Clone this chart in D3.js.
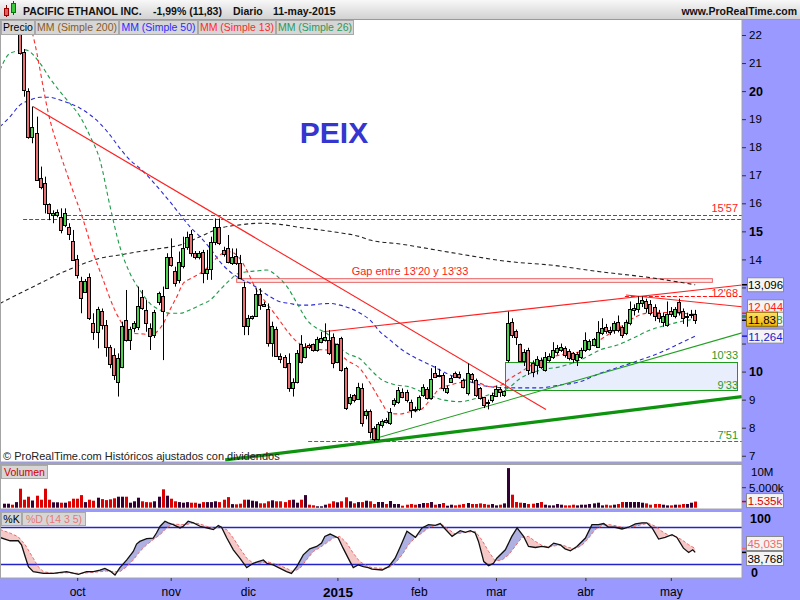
<!DOCTYPE html>
<html><head><meta charset="utf-8">
<script src="https://cdn.jsdelivr.net/npm/d3@7/dist/d3.min.js"></script>
<style>
html,body{margin:0;padding:0;background:#fff;}
svg{display:block;font-family:"Liberation Sans",Arial,sans-serif;}
</style></head>
<body><svg id="chart" width="800" height="600"></svg>
<script>
// ---------------- DATA ----------------
const opens = [23.8,24.2,24.4,23.9,22.9,21.4,20.0,18.38,18.5,16.9,
16.72,15.97,15.58,15.60,15.52,15.23,15.14,14.64,14.0,13.24,
12.85,13.36,11.72,11.41,12.17,11.66,10.87,10.59,9.64,10.15,
11.84,11.13,11.54,11.60,12.65,12.20,11.54,11.30,12.49,12.70,
12.97,14.07,13.60,13.27,13.76,14.43,14.89,14.22,14.10,14.25,
13.53,13.65,14.61,15.14,14.34,14.42,13.88,14.12,13.88,13.03,
11.62,11.92,11.99,12.75,12.41,12.23,11.03,11.52,10.55,10.51,
10.29,9.40,9.64,10.97,10.53,10.95,10.98,10.77,11.07,11.13,
11.13,11.24,10.35,11.19,10.12,8.87,9.16,9.01,9.40,8.45,
8.60,7.98,7.58,8.10,8.27,8.15,8.83,8.93,9.29,9.29,
8.93,8.68,8.65,9.17,9.37,9.07,9.94,9.84,9.88,9.28,
9.64,9.94,9.91,9.70,9.22,9.90,9.70,9.40,9.08,8.93,
8.99,9.14,9.37,9.17,10.41,11.78,11.45,10.98,10.39,10.77,
10.29,10.23,10.41,10.06,10.41,10.53,10.71,10.77,10.83,10.75,
10.65,10.41,10.53,10.77,10.8,10.95,10.89,11.39,11.58,11.5,
11.48,11.78,11.58,11.36,11.72,12.2,12.22,12.43,12.53,12.4,
12.29,12.10,11.78,11.66,12.15,11.98,12.47,12.17,11.98,12.05,
12.05];
const highs = [24.5,24.6,24.5,24.2,23.0,21.5,20.1,19.45,19.09,17.31,
16.95,16.0,15.75,15.78,15.82,15.82,15.29,15.05,14.16,13.38,
13.3,13.50,12.08,12.31,12.25,11.84,10.95,10.83,10.65,11.78,
12.91,11.6,11.8,13.03,12.91,12.55,11.72,12.2,12.85,13.03,
14.22,14.75,13.74,14.28,14.81,14.99,15.05,14.3,14.3,14.34,
14.34,14.81,15.46,15.46,14.45,14.87,14.39,14.39,14.16,13.20,
12.02,12.0,12.97,12.97,12.49,12.43,11.78,11.60,10.65,10.59,
10.65,9.76,10.77,11.30,11.01,11.0,11.0,11.24,11.42,11.72,
11.48,11.36,11.0,11.24,10.17,9.2,9.2,9.60,9.58,8.65,
8.65,8.05,8.2,8.3,8.35,8.7,9.05,9.45,9.4,9.35,
9.0,8.75,9.15,9.55,9.45,10.12,10.2,10.1,9.95,9.5,
9.85,10.0,10.0,9.75,10.29,9.95,9.75,9.45,9.1,9.0,
9.25,9.5,9.45,9.33,12.14,11.9,11.5,11.0,10.8,10.85,
10.4,10.55,10.5,10.7,10.65,11.05,10.95,11.0,10.9,10.8,
10.7,10.7,10.85,11.4,11.15,11.2,11.8,11.9,11.7,11.6,
11.8,12.0,11.65,11.85,12.5,12.4,12.68,12.68,12.6,12.55,
12.4,12.2,12.1,12.5,12.3,12.3,12.6,12.25,12.1,12.2,
12.2];
const lows = [23.6,24.0,23.9,23.6,21.3,19.8,18.3,18.14,16.8,16.5,
15.64,15.40,15.29,15.5,14.93,15.15,14.69,13.95,13.32,12.08,
12.8,11.84,11.13,10.83,11.5,10.53,10.12,9.70,9.11,10.12,
11.07,10.77,11.4,11.48,12.20,11.42,10.77,11.2,12.37,10.41,
12.95,13.74,13.03,13.15,13.68,14.34,14.10,14.0,14.0,13.15,
13.27,13.27,14.51,14.51,14.10,13.86,13.80,13.80,13.33,11.30,
11.30,11.85,11.96,12.20,12.31,10.89,10.53,10.53,10.3,10.12,
9.28,9.11,9.58,10.29,10.47,10.8,10.71,10.71,11.01,11.07,
10.59,10.12,10.3,10.0,8.63,8.8,8.9,8.99,8.04,8.3,
7.62,7.51,7.55,8.0,8.15,8.1,8.75,8.85,9.05,8.9,
8.35,8.55,8.6,9.1,9.0,9.0,9.78,9.8,9.3,9.2,
9.6,9.78,9.75,9.4,9.15,9.6,9.1,9.0,8.7,8.65,
8.9,9.1,9.1,9.1,10.33,11.2,10.95,10.35,10.2,9.88,
9.8,9.9,10.1,10.0,10.35,10.45,10.6,10.7,10.5,10.4,
10.3,10.2,10.45,10.7,10.75,10.9,10.85,11.3,11.35,11.3,
11.35,11.4,11.2,11.3,11.65,12.0,12.1,12.3,12.1,12.0,
11.8,11.75,11.6,11.6,11.95,11.9,12.0,11.7,11.6,11.9,
11.7];
const closes = [24.2,24.4,24.0,24.1,21.35,20.04,18.38,18.71,16.83,16.59,
15.97,15.64,15.66,15.70,15.05,15.64,14.91,13.98,13.44,12.61,
13.24,11.90,11.42,12.22,11.66,10.89,10.27,9.88,10.47,11.63,
11.13,11.51,11.72,12.34,12.26,11.72,11.27,12.14,12.79,12.16,
14.10,13.80,13.15,13.92,14.42,14.81,14.22,14.10,14.22,13.50,
13.65,14.61,15.14,14.57,14.19,13.92,14.10,13.88,13.35,11.62,
11.92,11.98,12.75,12.37,12.34,11.03,11.62,10.57,10.45,10.17,
9.40,9.64,10.65,10.35,10.86,10.86,10.77,11.15,11.21,11.24,
10.67,10.32,10.98,10.06,8.72,9.11,8.99,9.46,8.16,8.60,
7.86,7.58,8.13,8.25,8.21,8.57,8.99,9.34,9.11,8.99,
8.63,8.62,9.08,9.46,9.07,9.72,9.82,9.88,9.40,9.40,
9.76,9.82,9.80,9.46,9.96,9.72,9.17,9.05,8.81,8.87,
9.17,9.37,9.29,9.30,11.72,11.30,11.25,10.39,10.71,10.06,
9.99,10.44,10.17,10.53,10.56,10.77,10.83,10.86,10.59,10.50,
10.44,10.63,10.77,11.13,11.08,11.15,11.42,11.54,11.46,11.42,
11.72,11.48,11.30,11.78,12.22,12.28,12.43,12.55,12.25,12.1,
11.99,11.9,11.98,12.07,12.05,12.22,12.14,11.90,12.0,12.07,
11.83];
// volume in millions of shares
const volumes = [1.0,1.0,0.75,1.4,4.75,2.0,2.75,1.8,3.0,2.0,
4.75,2.0,1.35,1.35,1.25,1.25,1.6,2.25,2.25,3.15,
1.4,2.0,1.75,2.5,2.15,1.9,2.1,2.35,2.75,2.75,
2.75,1.25,1.6,2.5,1.6,1.4,1.35,1.6,2.75,4.6,
3.0,2.25,1.6,1.4,1.25,1.4,1.25,1.25,1.0,1.4,
1.4,1.4,1.6,1.4,2.0,2.65,0.9,0.85,1.0,2.0,
2.0,1.75,1.6,1.1,1.1,1.6,1.85,1.6,1.6,1.4,
1.9,2.0,1.25,2.0,3.15,0.75,0.6,0.35,0.35,0.75,
1.0,1.6,1.35,1.6,2.6,1.6,1.1,1.4,1.4,1.75,
1.6,0.92,1.42,1.42,0.92,1.67,0.92,0.92,0.5,0.75,
0.92,0.75,0.92,1.17,1.17,1.42,0.75,0.92,1.17,0.5,
0.75,0.58,0.75,0.92,1.17,0.92,0.92,1.08,0.92,0.75,
0.92,0.58,0.75,1.08,9.9,3.25,1.42,1.25,1.17,0.92,
1.0,1.17,1.42,0.75,0.58,0.58,0.92,0.75,0.58,0.58,
0.75,0.58,0.75,0.75,0.92,1.08,1.25,0.58,0.75,0.58,
0.75,0.92,1.42,1.42,1.42,1.42,1.42,1.25,1.08,0.75,
0.92,0.92,0.75,0.58,0.58,0.75,0.75,0.92,0.92,1.25,
1.535];
// moving averages, sampled [bar index, value]
const sma200 = [[-1,12.43],[3.9,12.79],[8.9,13.15],[13.8,13.50],[18.7,13.80],[23.6,14.04],[28.5,14.16],[33.4,14.28],[38.4,14.39],[43.3,14.51],[48.2,14.81],[53.1,15.11],[58,15.23],[63,15.29],[67.9,15.25],[72.8,15.14],[77.7,15.05],[82.6,14.95],[87.6,14.81],[90,14.69],[97.4,14.55],[109.7,14.25],[124.4,13.92],[134.3,13.80],[146.6,13.56],[158.9,13.35],[170,13.096]];
const sma50 = [[-1,18.73],[1.5,19.09],[3.9,19.50],[6.4,19.68],[8.9,19.78],[11.3,19.78],[13.8,19.68],[16.2,19.56],[18.7,19.39],[21.2,19.15],[23.6,18.85],[26.1,18.43],[28.5,17.96],[31,17.54],[33.4,17.25],[35.9,16.89],[38.4,16.47],[40.8,16.06],[43.3,15.6],[45.7,15.17],[48.2,14.81],[50.7,14.39],[53.1,13.92],[55.6,13.56],[58,13.32],[60.5,13.15],[63,12.91],[65.4,12.67],[67.9,12.49],[70.3,12.43],[72.8,12.37],[75.3,12.37],[77.7,12.41],[80.2,12.43],[82.6,12.37],[85.1,12.26],[87.6,12.08],[90,11.84],[92.5,11.42],[94.9,11.13],[97.4,10.83],[99.9,10.59],[102.3,10.41],[104.8,10.24],[107.2,10.06],[109.7,9.88],[112.2,9.76],[114.6,9.64],[117.1,9.52],[119.5,9.46],[122,9.43],[126.9,9.42],[131.8,9.42],[136.7,9.52],[141.7,9.64],[146.6,9.94],[151.5,10.17],[156.4,10.41],[161.3,10.67],[166.3,11.01],[170,11.264]];
const sma13 = [[5.5,22.8],[7.1,22.0],[11.3,18.97],[13.8,17.78],[16.6,16.59],[19.5,15.40],[22,14.22],[24.4,13.27],[26.9,12.31],[28.5,11.84],[30.2,11.48],[31.8,11.36],[34.3,11.34],[36.3,11.30],[37.6,11.42],[39.2,11.72],[40.8,12.20],[42.5,12.67],[44.1,13.15],[45.7,13.3],[48.2,13.50],[50.7,13.80],[53.1,14.16],[55.6,14.27],[57.6,14.10],[59.7,13.62],[62.1,12.91],[64.6,12.43],[67.1,11.96],[69.5,11.48],[72,11.07],[74.4,10.89],[76.9,10.79],[79.4,10.77],[81.8,10.71],[84.3,10.41],[87.6,10.1],[90,9.6],[92.5,8.99],[94.9,8.51],[97.4,8.49],[99.9,8.57],[102.3,8.63],[104.8,8.99],[107.2,9.40],[109.7,9.52],[112.2,9.61],[114.6,9.64],[117.1,9.58],[119.5,9.46],[122,9.50],[124.4,9.75],[126.9,9.97],[129.4,10.2],[131.8,10.38],[134.3,10.51],[136.7,10.59],[139.2,10.65],[141.7,10.71],[144.1,10.89],[146.6,11.13],[149,11.36],[151.5,11.60],[154,11.84],[156.4,12.02],[158.9,12.10],[161.3,12.11],[163.8,12.10],[166.3,12.08],[170,12.044]];
const sma26 = [[-1,20.75],[1.5,21.35],[5.2,21.47],[8.9,20.99],[11.3,20.45],[13.8,19.98],[16.2,19.56],[18.7,19.09],[21.2,18.38],[23.6,17.54],[26.1,15.88],[28.5,14.45],[31,13.50],[33.4,12.91],[35.9,12.43],[38.4,12.20],[40.8,12.08],[43.3,12.08],[45.7,12.20],[48.2,12.37],[50.7,12.55],[53.1,12.91],[55.6,13.27],[57.6,13.50],[59.8,13.56],[62.2,13.59],[64.7,13.62],[67.1,13.41],[69.6,13.03],[72.1,12.43],[74.5,11.84],[77,11.54],[79.4,11.36],[81.9,10.95],[84.4,10.65],[87.6,10.45],[90,10.1],[92.5,9.75],[95.7,9.55],[99.9,9.45],[104,9.2],[108,8.99],[112.2,8.93],[116.3,9.05],[120.3,9.22],[124.4,9.45],[126.9,9.75],[131.8,10.05],[136.7,10.17],[141.7,10.41],[146.6,10.77],[151.5,10.98],[154.7,11.19],[158.9,11.48],[163.1,11.66],[166.3,11.78],[170,11.868]];
// stochastic (14 3 5), sampled [bar index, value]
const stochK = [[-1,63],[1.5,57.6],[3.5,57.6],[4.3,51.1],[5.2,32],[6,15.6],[7.2,7.5],[9.7,4.7],[12.1,4.7],[15.4,7.5],[18.3,3.1],[20.3,7.5],[22,7.5],[23.6,10.2],[24.8,12.9],[26.1,8.5],[27.3,2],[28.5,14],[30.2,26.5],[31.8,40.2],[32.6,52.2],[33.4,56.5],[35.1,60.9],[36.7,62],[37.5,70.2],[38.4,81.1],[39.6,89.3],[40.4,86.6],[41.6,83.8],[43.3,78.4],[44.1,81.1],[45.3,89.3],[46.6,86.6],[48.2,81.1],[49.8,78.4],[51.5,75.6],[52.7,82.2],[53.5,79.5],[54.8,62],[56.4,42.9],[58,29.3],[59.7,14],[61.3,21.1],[62.5,23.8],[63.8,26.5],[64.6,21.1],[66.2,18.4],[67.9,12.9],[69.5,7.5],[70.7,4.7],[72,15.6],[73.6,34.7],[75.2,44.5],[76.9,48.4],[78.1,53.8],[78.9,64.7],[80.2,68.5],[81.4,64.7],[82.2,62],[83.4,45.6],[85.1,23.8],[85.9,14],[87.1,18.4],[88.4,15.6],[89.6,14],[90.5,11.5],[93,10.2],[94.6,15.6],[96.2,29.3],[97.5,48.4],[99.1,72.9],[101.2,63.1],[102.8,78.4],[104.4,83.8],[106.1,82.7],[107.3,85.5],[108.1,79.5],[110.2,64.7],[112.2,74],[113.5,71.3],[114.7,74],[115.9,70.2],[116.7,56.5],[118,23.8],[119.2,17.3],[120.4,21.1],[121.2,29.3],[123.3,42.9],[124.9,64.7],[126.2,78.4],[127.8,64.7],[129,48.4],[130.7,46.7],[132.3,48.4],[133.9,46.7],[135.2,53.8],[136.8,51.1],[138,44.5],[139.3,41.3],[140.9,48.4],[143,62],[144.6,83.8],[146.2,83.8],[147.5,85.5],[148.7,79.5],[150.3,79.5],[152,76.7],[153.6,79.5],[155.3,84.9],[156.9,86.6],[158.1,86.6],[159.4,78.4],[161,60.4],[162.6,63.1],[164.3,67.5],[165.5,63.1],[167.1,45.6],[168.4,38.5],[169.4,42.9],[170,38.768]];
const stochD = [[-1,76],[1.5,70],[3.5,64],[5.2,51.1],[7.2,29.3],[8.4,15.6],[9.7,7.5],[12.1,4.7],[15.4,5.8],[18.7,4.7],[22,6.4],[25.2,8.5],[27.3,7.5],[28.5,7.5],[30.2,15.6],[31.8,26.5],[33.4,40.2],[35.1,51.1],[36.7,59.3],[38.4,67.5],[40,78.4],[41.6,84.9],[43.3,83.8],[44.9,83.8],[46.6,86.6],[48.2,84.9],[49.8,81.1],[51.5,78.4],[53.1,79.5],[54.8,75.6],[56.4,62],[58,45.6],[59.7,29.3],[61.3,21.1],[63,21.1],[64.6,23.8],[66.2,21.1],[67.9,17.3],[69.5,12.9],[71.1,7.5],[72.8,12.9],[74.4,26.5],[76.1,40.2],[77.7,46.7],[79.3,53.8],[81,62],[82.6,64.7],[84.3,53.8],[85.9,37.5],[87.5,23.8],[89.2,17.3],[90.5,14],[93,12.9],[94.6,14],[96.2,21.1],[97.9,34.7],[99.5,51.1],[101.2,63.1],[102.8,70.2],[104.4,78.4],[106.1,82.7],[107.7,83.8],[109.4,75.6],[111,68.5],[112.6,70.2],[114.3,71.8],[115.9,72.9],[117.5,59.3],[119.2,40.2],[120.8,24.9],[122.5,26.5],[124.1,34.7],[125.7,48.4],[127.4,63.1],[129,64.7],[130.7,56.5],[132.3,50],[133.9,47.3],[135.6,49.5],[137.2,51.1],[138.9,46.7],[140.5,44.5],[142.1,50],[143.8,62],[145.4,75.6],[147,82.2],[148.7,83.8],[150.3,82.2],[152,79.5],[153.6,78.4],[155.3,81.1],[156.9,83.8],[158.5,86],[160.2,81.1],[161.8,72.9],[163.5,66.4],[165.1,64.7],[166.7,59.3],[168.4,51.1],[170,45.035]];
// drawn annotations in [bar index, price] units
const redTrendLines = [[7.1,19.45,133.3,8.65],[78.5,11.42,181.5,13.09],[153.0,12.73,181.5,12.31]];
const greenThinLine = [90.0,7.56,181.5,11.38];
const greenThickLine = [54.4,6.85,181.5,9.105];
const redLevelStart = [15.5,4.7,152.7];
const redLevelPrice = [15.57,15.45,12.68];
const greenLevelStart = [74.8];
const greenLevelPrice = [7.51];
const gapBox = [57.1,174.1,13.20,13.33];
const fillBox = [123.2,180.3,9.33,10.33];
const levelLabels = ["15'57","12'68","10'33","9'33","7'51"];
const levelLabelPrices = [15.57,12.68,10.33,9.33,7.51];
// axes
const priceTicks = [7,8,9,10,11,12,13,14,15,16,17,18,19,20,21,22];
const hiddenPriceTicks = [11,12,13];
const monthIdx = [18,41,60,82,102,121,143,164];
const monthLabels = ["oct","nov","dic","2015","feb","mar","abr","may"];

// ---------------- DRAWING ----------------
const svg = d3.select("#chart");
const N = closes.length;
const FONT = '"Liberation Sans",Arial,sans-serif';
const LAV = "#9999ff";
const x = d3.scaleLinear().domain([0, 170]).range([4, 695.2]);
const yP = d3.scaleLinear().domain([7, 22]).range([455.75, 35]);
const yV = d3.scaleLinear().domain([0, 10]).range([507.7, 467.7]);
const yS = d3.scaleLinear().domain([0, 100]).range([576.3, 514.6]);

const defs = svg.append("defs");
function clipRect(id, x0, y0, w, h){ defs.append("clipPath").attr("id", id).append("rect").attr("x",x0).attr("y",y0).attr("width",w).attr("height",h); }
clipRect("cp", 0, 20, 742, 442);
clipRect("cv", 0, 465, 742, 44);
clipRect("cs", 0, 512, 742, 66);
const hg = defs.append("linearGradient").attr("id","hdr").attr("x1",0).attr("y1",0).attr("x2",0).attr("y2",1);
hg.append("stop").attr("offset","0%").attr("stop-color","#f8f8f8");
hg.append("stop").attr("offset","100%").attr("stop-color","#d2d2d2");
const yg = defs.append("linearGradient").attr("id","ylw").attr("x1",0).attr("y1",0).attr("x2",0).attr("y2",1);
yg.append("stop").attr("offset","0%").attr("stop-color","#ffe066");
yg.append("stop").attr("offset","100%").attr("stop-color","#f0b400");

svg.append("rect").attr("width",800).attr("height",600).attr("fill","#fff");
svg.append("rect").attr("x",742).attr("y",19).attr("width",58).attr("height",581).attr("fill",LAV);
svg.append("rect").attr("x",0).attr("y",578).attr("width",742).attr("height",22).attr("fill",LAV);
svg.append("rect").attr("x",0).attr("y",462).attr("width",742).attr("height",3).attr("fill",LAV);
svg.append("rect").attr("x",0).attr("y",509).attr("width",742).attr("height",3).attr("fill",LAV);

// ---- price panel ----
const gP = svg.append("g").attr("clip-path","url(#cp)");
gP.append("rect").attr("x", x(gapBox[0])+0.5).attr("y", yP(gapBox[3])+0.5)
  .attr("width", x(gapBox[1])-x(gapBox[0])).attr("height", yP(gapBox[2])-yP(gapBox[3]))
  .attr("fill","#fdeeee").attr("stroke","#e86464").attr("stroke-width",1);
gP.append("rect").attr("x", Math.round(x(fillBox[0]))+0.5).attr("y", Math.round(yP(fillBox[3]))+0.5)
  .attr("width", Math.round(x(fillBox[1])-x(fillBox[0]))).attr("height", Math.round(yP(fillBox[2])-yP(fillBox[3])))
  .attr("fill","#e8eefb").attr("stroke","#1f9a1f").attr("stroke-width",1);

redLevelPrice.forEach((p,k)=>{
  const yy = Math.round(yP(p))+0.5;
  gP.append("line").attr("x1",x(redLevelStart[k])).attr("x2",742).attr("y1",yy).attr("y2",yy)
    .attr("stroke","#ff1010").attr("stroke-width",1).attr("stroke-dasharray","4,2");
});
greenLevelPrice.forEach((p,k)=>{
  const yy = Math.round(yP(p))+0.5;
  gP.append("line").attr("x1",x(greenLevelStart[k])).attr("x2",742).attr("y1",yy).attr("y2",yy)
    .attr("stroke","#1f8f1f").attr("stroke-width",1).attr("stroke-dasharray","4,2");
});

const maLine = d3.line().x(d=>x(d[0])).y(d=>yP(d[1])).curve(d3.curveMonotoneX);
[[sma200,"#222222"],[sma50,"#2b2bd6"],[sma26,"#1f9a4a"],[sma13,"#ff2a2a"]].forEach(([arr,col])=>{
  gP.append("path").attr("d", maLine(arr)).attr("fill","none").attr("stroke",col)
    .attr("stroke-width",1.1).attr("stroke-dasharray","4,3");
});

redTrendLines.forEach(l=>{
  gP.append("line").attr("x1",x(l[0])).attr("y1",yP(l[1])).attr("x2",x(l[2])).attr("y2",yP(l[3]))
    .attr("stroke","#ff2020").attr("stroke-width",1.1);
});
gP.append("line").attr("x1",x(greenThinLine[0])).attr("y1",yP(greenThinLine[1])).attr("x2",x(greenThinLine[2])).attr("y2",yP(greenThinLine[3]))
  .attr("stroke","#22a022").attr("stroke-width",1.1);
gP.append("line").attr("x1",x(greenThickLine[0])).attr("y1",yP(greenThickLine[1])).attr("x2",x(greenThickLine[2])).attr("y2",yP(greenThickLine[3]))
  .attr("stroke","#0d930d").attr("stroke-width",3.2);

const idx = d3.range(N);
const cx = i => Math.round(x(i));
gP.append("g").selectAll("line").data(idx).join("line")
  .attr("x1", i=>cx(i)+0.5).attr("x2", i=>cx(i)+0.5)
  .attr("y1", i=>yP(highs[i])).attr("y2", i=>yP(lows[i]))
  .attr("stroke","#000").attr("stroke-width",1);
gP.append("g").selectAll("rect").data(idx).join("rect")
  .attr("x", i=>cx(i)-1.5).attr("width",3)
  .attr("y", i=>Math.round(yP(Math.max(opens[i],closes[i])))+0.5)
  .attr("height", i=>Math.max(1, Math.round(yP(Math.min(opens[i],closes[i]))) - Math.round(yP(Math.max(opens[i],closes[i])))))
  .attr("fill", i=>closes[i]>=opens[i] ? "#4fd24f" : "#ea7272")
  .attr("stroke","#000").attr("stroke-width",1);

gP.append("text").attr("x",334).attr("y",143).attr("text-anchor","middle").attr("font-family",FONT)
  .attr("font-size",30).attr("font-weight","bold").attr("fill","#3535cf").text("PEIX");
gP.append("text").attr("x",410).attr("y",275).attr("text-anchor","middle").attr("font-family",FONT)
  .attr("font-size",11).attr("fill","#ff1a1a").text("Gap entre 13'20 y 13'33");
const lblOff = [-3.5, 0.5, -3.5, -1.5, -2];
levelLabels.forEach((t,k)=>{
  gP.append("text").attr("x",738).attr("y",yP(levelLabelPrices[k])+lblOff[k]).attr("text-anchor","end")
    .attr("font-family",FONT).attr("font-size",11)
    .attr("fill", k<2 ? "#ff1a1a" : "#2a9a2a").text(t);
});
gP.append("text").attr("x",3).attr("y",460).attr("font-family",FONT).attr("font-size",11).attr("fill","#222")
  .text("\u00a9 ProRealTime.com Hist\u00f3ricos ajustados con dividendos");

// ---- volume panel ----
const gV = svg.append("g").attr("clip-path","url(#cv)");
gV.append("rect").attr("x",0).attr("y",465).attr("width",742).attr("height",44).attr("fill","#fff");
gV.selectAll("rect.v").data(idx).join("rect").attr("class","v")
  .attr("x", i=>cx(i)-1).attr("width",3)
  .attr("y", i=>yV(volumes[i])).attr("height", i=>yV(0)-yV(volumes[i]))
  .attr("fill", i=>closes[i]>=opens[i] ? "#330033" : "#dd0000");

// ---- stochastic panel ----
const gS = svg.append("g").attr("clip-path","url(#cs)");
gS.append("rect").attr("x",0).attr("y",512).attr("width",742).attr("height",66).attr("fill","#fff");
const aboveArea = d3.area().x(d=>x(d[0])).y0(512).y1(d=>yS(d[1]));
const belowArea = d3.area().x(d=>x(d[0])).y0(578).y1(d=>yS(d[1]));
defs.append("clipPath").attr("id","clipAboveD").append("path").attr("d", aboveArea(stochD));
defs.append("clipPath").attr("id","clipAboveK").append("path").attr("d", aboveArea(stochK));
gS.append("path").attr("d", belowArea(stochK)).attr("fill","#aeb0e2").attr("clip-path","url(#clipAboveD)");
gS.append("path").attr("d", belowArea(stochD)).attr("fill","#f6c9c9").attr("clip-path","url(#clipAboveK)");
[80,20].forEach(v=>{
  gS.append("line").attr("x1",0).attr("x2",742).attr("y1",Math.round(yS(v))+0.5).attr("y2",Math.round(yS(v))+0.5)
    .attr("stroke","#2323cc").attr("stroke-width",1.3);
});
const sLine = d3.line().x(d=>x(d[0])).y(d=>yS(d[1]));
gS.append("path").attr("d", sLine(stochD)).attr("fill","none").attr("stroke","#ee6a6a").attr("stroke-width",1).attr("stroke-dasharray","3,2");
gS.append("path").attr("d", sLine(stochK)).attr("fill","none").attr("stroke","#111").attr("stroke-width",1.3);

[[0.5,19.5,741.5,442.5],[0.5,464.5,741.5,44.5],[0.5,511.5,741.5,66.5]].forEach(r=>{
  svg.append("rect").attr("x",r[0]).attr("y",r[1]).attr("width",r[2]).attr("height",r[3])
    .attr("fill","none").attr("stroke","#a4a4a4").attr("stroke-width",1);
});

// ---- header ----
svg.append("rect").attr("x",0).attr("y",0).attr("width",800).attr("height",19).attr("fill","url(#hdr)");
svg.append("line").attr("x1",0).attr("x2",800).attr("y1",19.5).attr("y2",19.5).attr("stroke","#9a9a9a");
svg.append("line").attr("x1",6.5).attr("x2",6.5).attr("y1",5).attr("y2",17).attr("stroke","#800");
svg.append("rect").attr("x",4.5).attr("y",8.5).attr("width",4).attr("height",7).attr("fill","#e06060").attr("stroke","#900");
svg.append("line").attr("x1",13.5).attr("x2",13.5).attr("y1",1).attr("y2",15).attr("stroke","#060");
svg.append("rect").attr("x",11.5).attr("y",3.5).attr("width",4).attr("height",9).attr("fill","#3cc83c").attr("stroke","#070");
const hdrTxt = [[23,"PACIFIC ETHANOL INC."],[153,"-1,99% (11,83)"],[233,"Diario"],[273,"11-may-2015"]];
hdrTxt.forEach(([xx,t])=>{
  svg.append("text").attr("x",xx).attr("y",14.5).attr("font-family",FONT).attr("font-size",10.5)
    .attr("font-weight","bold").attr("fill","#111").text(t);
});
svg.append("text").attr("x",797).attr("y",14.5).attr("text-anchor","end").attr("font-family",FONT)
  .attr("font-size",10.5).attr("font-weight","bold").attr("fill","#111").text("www.ProRealTime.com");

const legend = [["Precio","#000",1.5,33],["MM (Simple 200)","#8a5a1e",35.5,83],["MM (Simple 50)","#2b2bff",119.5,78],["MM (Simple 13)","#ff2a2a",198.5,77],["MM (Simple 26)","#2a9a5a",276.5,77]];
legend.forEach(([t,c,xx,w])=>{
  svg.append("rect").attr("x",xx).attr("y",20.5).attr("width",w).attr("height",14).attr("fill","#d6d6d6").attr("stroke","#a9a9a9");
  svg.append("text").attr("x",xx+w/2).attr("y",31).attr("text-anchor","middle").attr("font-family",FONT)
    .attr("font-size",10.5).attr("fill",c).text(t);
});
function tagBox(xx,yy,w,t,col){
  svg.append("rect").attr("x",xx).attr("y",yy).attr("width",w).attr("height",13).attr("fill","#d6d6d6").attr("stroke","#a9a9a9");
  svg.append("text").attr("x",xx+w/2).attr("y",yy+10.5).attr("text-anchor","middle").attr("font-family",FONT)
    .attr("font-size",10.5).attr("fill",col).text(t);
}
tagBox(1.5,465.5,46,"Volumen","#d00000");
tagBox(1.5,512.5,20,"%K","#000");
tagBox(22.5,512.5,63,"%D (14 3 5)","#e87878");

// ---- right price axis ----
const axP = d3.axisRight(yP).tickValues(priceTicks).tickSize(4).tickPadding(3)
  .tickFormat(d=>hiddenPriceTicks.includes(d) ? "" : d3.format("d")(d));
const gAx = svg.append("g").attr("transform","translate(742,0)").call(axP);
gAx.select(".domain").remove();
gAx.selectAll(".tick line").attr("stroke","#333");
gAx.selectAll(".tick text").attr("font-family",FONT).attr("fill","#000")
  .attr("font-size", d=>(d%5===0)?12.5:11.5).attr("font-weight", d=>(d%5===0)?"bold":"normal");

const fmt = (v,dec)=>d3.format("."+dec+"f")(v).replace(".",",");
function valBox(x0,cy,w,t,col,fill,stroke,tickY,tickCol){
  if(tickY!==null) svg.append("line").attr("x1",742).attr("x2",747).attr("y1",tickY).attr("y2",tickY).attr("stroke",tickCol).attr("stroke-width",1.5);
  svg.append("rect").attr("x",x0).attr("y",cy-7).attr("width",w).attr("height",14).attr("fill",fill).attr("stroke",stroke);
  svg.append("text").attr("x",x0+w/2).attr("y",cy+4.5).attr("text-anchor","middle").attr("font-family",FONT)
    .attr("font-size",11.5).attr("fill",col).text(t);
}
const last = a => a[a.length-1][1];
valBox(747.5, yP(last(sma200)), 36, fmt(last(sma200),3), "#000", "#f4f4f4", "#8a8a8a", yP(last(sma200)), "#000");
valBox(747.5, yP(last(sma13))-7.5, 36, fmt(last(sma13),3), "#ff2020", "#f4f4f4", "#8a8a8a", yP(last(sma13))-1, "#ff2020");
valBox(747.5, yP(last(sma26)), 36, fmt(last(sma26),3), "#1f9a4a", "#f4f4f4", "#8a8a8a", yP(last(sma26))-2, "#1f9a4a");
valBox(746.5, yP(closes[N-1])-1, 31, fmt(closes[N-1],2), "#000", "url(#ylw)", "#8a6a00", yP(closes[N-1]), "#000");
valBox(747.5, yP(last(sma50)), 36, fmt(last(sma50),3), "#2020d0", "#f4f4f4", "#8a8a8a", yP(last(sma50)), "#2020d0");

// ---- volume axis ----
svg.append("text").attr("x",751).attr("y",476).attr("font-family",FONT).attr("font-size",11.5).text("10M");
svg.append("line").attr("x1",742).attr("x2",746).attr("y1",yV(5)).attr("y2",yV(5)).attr("stroke","#333");
svg.append("text").attr("x",749).attr("y",yV(5)+4).attr("font-family",FONT).attr("font-size",11.5).text("5.000k");
valBox(746.5, yV(volumes[N-1])-1, 37, d3.format(".3f")(volumes[N-1])+"k", "#dd0000", "#f4f4f4", "#8a8a8a", yV(volumes[N-1]), "#dd0000");

// ---- stochastic axis ----
svg.append("text").attr("x",750).attr("y",523).attr("font-family",FONT).attr("font-size",12.5).attr("font-weight","bold").text("100");
svg.append("text").attr("x",751).attr("y",577).attr("font-family",FONT).attr("font-size",12.5).attr("font-weight","bold").text("0");
valBox(746.5, 543.5, 37, fmt(last(stochD),3), "#ee6a6a", "#f4f4f4", "#8a8a8a", yS(last(stochD)), "#ee6a6a");
valBox(746.5, 558.5, 37, fmt(last(stochK),3), "#000", "#f4f4f4", "#8a8a8a", yS(last(stochK)), "#000");

// ---- x axis ----
const axX = d3.axisBottom(x).tickValues(monthIdx).tickSize(3).tickPadding(6).tickFormat((d,k)=>monthLabels[k]);
const gX = svg.append("g").attr("transform","translate(0,578)").call(axX);
gX.select(".domain").remove();
gX.selectAll(".tick line").attr("stroke","#333");
gX.selectAll(".tick text").attr("font-family",FONT).attr("fill","#000")
  .attr("font-size",(d,k)=>monthLabels[k]==="2015"?13.5:12)
  .attr("font-weight",(d,k)=>monthLabels[k]==="2015"?"bold":"normal");
</script>
</body></html>
